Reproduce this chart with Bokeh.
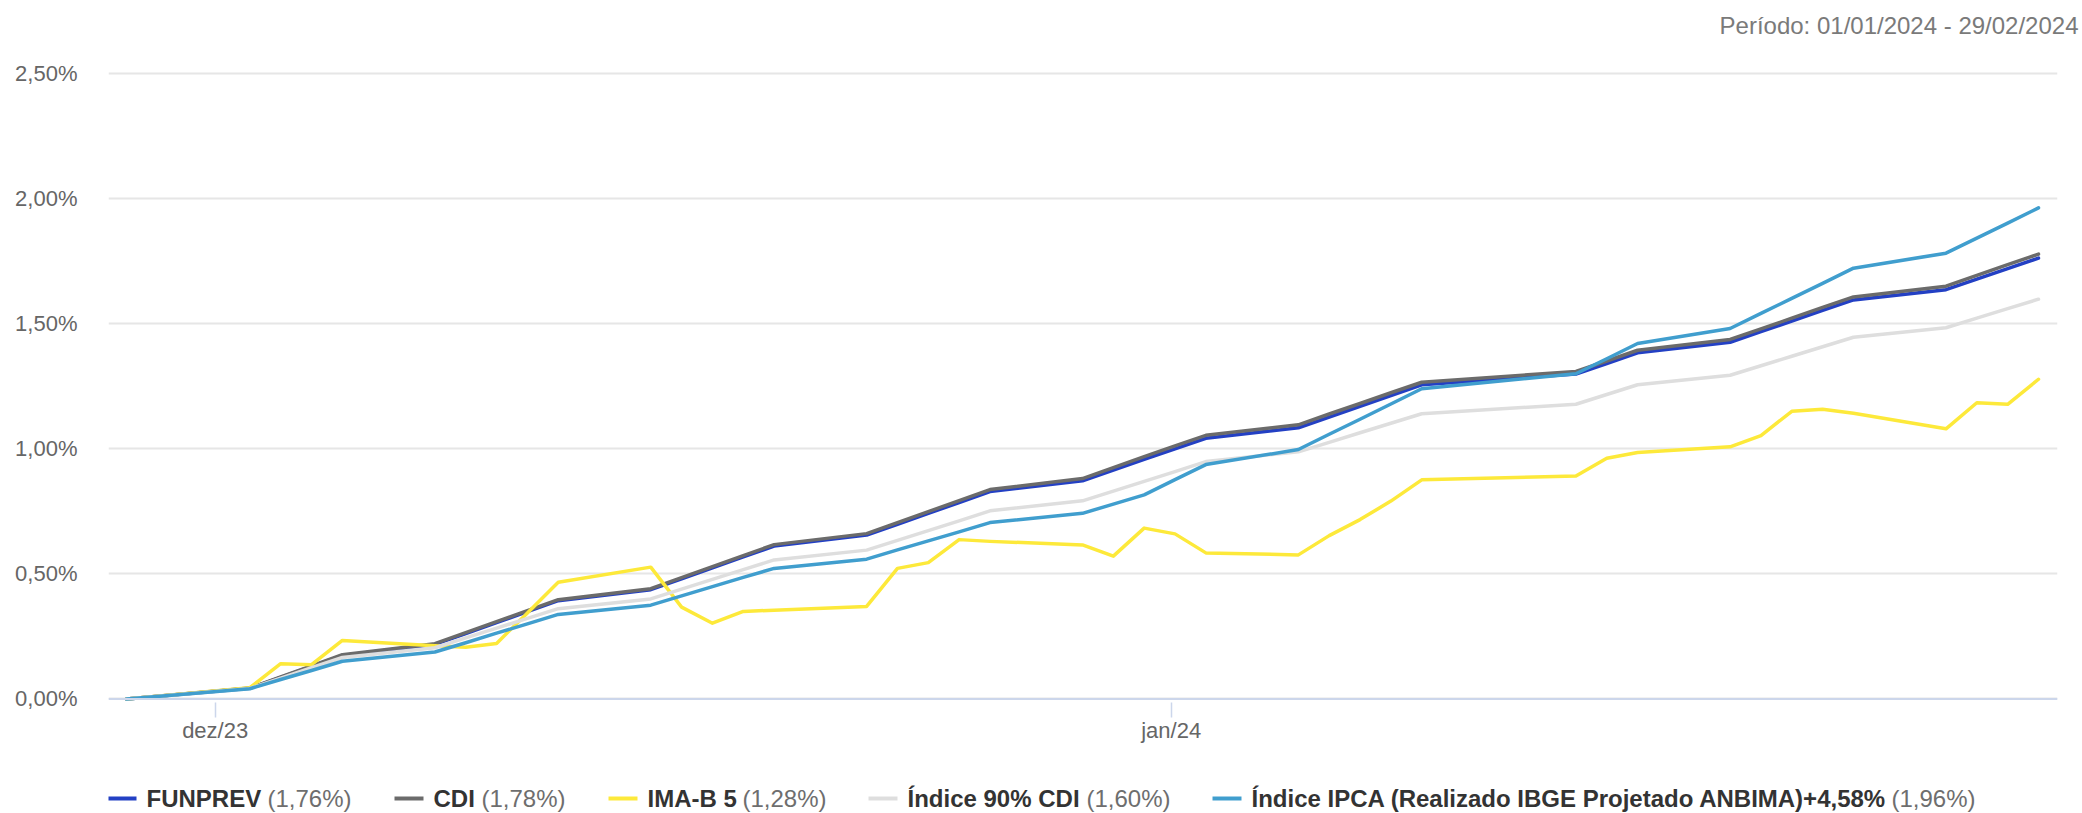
import pandas as pd
from bokeh.plotting import figure
from bokeh.models import Range1d, FixedTicker, CustomJSTickFormatter, Span
from bokeh.layouts import column
from bokeh.embed import file_html
from bokeh.resources import INLINE
from bokeh.core.properties import value

# ---------------- data ----------------
dates = ["2023-12-29",
         "2024-01-02", "2024-01-03", "2024-01-04", "2024-01-05",
         "2024-01-08", "2024-01-09", "2024-01-10", "2024-01-11", "2024-01-12",
         "2024-01-15", "2024-01-16", "2024-01-17", "2024-01-18", "2024-01-19",
         "2024-01-22", "2024-01-23", "2024-01-24", "2024-01-25", "2024-01-26",
         "2024-01-29", "2024-01-30", "2024-01-31", "2024-02-01", "2024-02-02",
         "2024-02-05", "2024-02-06", "2024-02-07", "2024-02-08", "2024-02-09",
         "2024-02-14", "2024-02-15", "2024-02-16",
         "2024-02-19", "2024-02-20", "2024-02-21", "2024-02-22", "2024-02-23",
         "2024-02-26", "2024-02-27", "2024-02-28", "2024-02-29"]

funprev = [0, 0.043, 0.086, 0.130, 0.174, 0.218, 0.261, 0.305, 0.349, 0.393,
           0.437, 0.480, 0.524, 0.568, 0.611, 0.655, 0.698, 0.742, 0.785, 0.829,
           0.872, 0.915, 0.958, 1.000, 1.042, 1.084, 1.127, 1.170, 1.213, 1.256,
           1.299, 1.341, 1.384, 1.426, 1.468, 1.510, 1.553, 1.595, 1.636, 1.678,
           1.720, 1.762]

cdi = [0, 0.044, 0.088, 0.132, 0.177, 0.221, 0.265, 0.309, 0.353, 0.397,
       0.441, 0.485, 0.529, 0.573, 0.617, 0.661, 0.705, 0.749, 0.793, 0.837,
       0.881, 0.925, 0.969, 1.012, 1.054, 1.096, 1.139, 1.181, 1.224, 1.266,
       1.309, 1.351, 1.394, 1.437, 1.479, 1.522, 1.565, 1.607, 1.650, 1.693,
       1.736, 1.778]

imab5 = [0, 0.045, 0.141, 0.137, 0.234, 0.213, 0.207, 0.222, 0.344, 0.467,
         0.527, 0.367, 0.303, 0.350, 0.355, 0.370, 0.522, 0.545, 0.637, 0.630,
         0.616, 0.571, 0.683, 0.660, 0.584, 0.576, 0.653, 0.717, 0.791, 0.876,
         0.891, 0.962, 0.985, 1.008, 1.053, 1.150, 1.158, 1.142, 1.080, 1.184,
         1.178, 1.278]

cdi90 = [0, 0.042, 0.083, 0.125, 0.166, 0.205, 0.244, 0.283, 0.322, 0.361,
         0.400, 0.439, 0.478, 0.517, 0.556, 0.595, 0.634, 0.673, 0.712, 0.752,
         0.792, 0.831, 0.870, 0.909, 0.949, 0.988, 1.026, 1.064, 1.102, 1.140,
         1.178, 1.217, 1.256, 1.294, 1.332, 1.370, 1.408, 1.446, 1.484, 1.522,
         1.560, 1.598]

ipca = [0, 0.041, 0.078, 0.114, 0.151, 0.188, 0.225, 0.263, 0.300, 0.338,
        0.375, 0.412, 0.449, 0.486, 0.522, 0.559, 0.596, 0.632, 0.668, 0.705,
        0.742, 0.779, 0.816, 0.877, 0.937, 0.997, 1.058, 1.118, 1.179, 1.240,
        1.300, 1.360, 1.421, 1.481, 1.541, 1.601, 1.661, 1.722, 1.782, 1.842,
        1.902, 1.963]

series_names = ["FUNPREV", "CDI", "IMA-B 5", "Índice 90% CDI",
                "Índice IPCA (Realizado IBGE Projetado ANBIMA)+4,58%"]
series_totals = ["(1,76%)", "(1,78%)", "(1,28%)", "(1,60%)", "(1,96%)"]
series_colors = ["#2340c4", "#6b6b6b", "#fde93a", "#dedede", "#409ece"]

# month ticks (UTC midnight shown in local UTC-3 time -> previous month label)
tick_dates = ["2023-12-31 21:00", "2024-01-31 21:00"]
tick_labels = ["dez/23", "jan/24"]
y_ticks = [0, 0.5, 1.0, 1.5, 2.0, 2.5]
header_text = "Período: 01/01/2024 - 29/02/2024"

# ---------------- derived ----------------
base = pd.Timestamp(dates[0])
DAY = pd.Timedelta(days=1)
xd = [(pd.Timestamp(d) - base) / DAY for d in dates]
tick_x = [(pd.Timestamp(d) - base) / DAY for d in tick_dates]
all_series = [funprev, cdi, imab5, cdi90, ipca]

FONT = value("Liberation Sans")
W = 2082
BL, BR = 108, 25          # frame borders (left / right), shared by all rows
FX0, FX1 = BL, W - BR     # frame pixel extent

# ---------------- header (title only) ----------------
HH = 58
hdr = figure(width=W, height=HH, x_range=Range1d(0, 1), y_range=Range1d(0, 1),
             x_axis_location=None, y_axis_location=None, toolbar_location=None,
             output_backend="svg", min_border_left=BL, min_border_right=BR,
             min_border_top=0, min_border_bottom=0, outline_line_color=None,
             title=header_text)
hdr.grid.visible = False
hdr.title.align = "right"
hdr.title.offset = -(W - FX1 - 4)
hdr.title.standoff = 20
hdr.title.vertical_align = "middle"
hdr.title.text_font = "Liberation Sans"
hdr.title.text_font_size = "24px"
hdr.title.text_font_style = "normal"
hdr.title.text_color = "#7a7a7a"

# ---------------- main plot ----------------
p = figure(width=W, height=695, toolbar_location=None, output_backend="svg",
           x_range=Range1d(-0.5837, 62.616), y_range=Range1d(-0.014, 2.56),
           min_border_left=BL, min_border_right=BR, min_border_top=0,
           min_border_bottom=51, outline_line_color=None, title=None)

p.xgrid.visible = False
p.ygrid.ticker = FixedTicker(ticks=y_ticks)
p.ygrid.grid_line_color = "#e6e6e6"
p.ygrid.grid_line_width = 2

p.yaxis.ticker = FixedTicker(ticks=y_ticks)
p.yaxis.formatter = CustomJSTickFormatter(
    code="return tick.toFixed(2).replace('.', ',') + '%';")
p.yaxis.axis_line_color = None
p.yaxis.major_tick_line_color = None
p.yaxis.minor_tick_line_color = None
p.yaxis.major_tick_out = 0
p.yaxis.major_tick_in = 0
p.yaxis.major_label_standoff = 31
p.yaxis.major_label_text_font = "Liberation Sans"
p.yaxis.major_label_text_font_size = "22px"
p.yaxis.major_label_text_color = "#666666"

p.xaxis.ticker = FixedTicker(ticks=tick_x)
p.xaxis.formatter = CustomJSTickFormatter(
    args=dict(t=tick_x, l=tick_labels),
    code="for (let i = 0; i < t.length; i++) { if (Math.abs(t[i] - tick) < 1e-6) return l[i]; } return '';")
p.xaxis.axis_line_color = None
p.xaxis.major_tick_line_color = "#ccd6eb"
p.xaxis.major_tick_line_width = 1.5
p.xaxis.minor_tick_line_color = None
p.xaxis.major_tick_out = 15
p.xaxis.major_tick_in = 0
p.xaxis.major_label_standoff = 0
p.xaxis.major_label_text_font = "Liberation Sans"
p.xaxis.major_label_text_font_size = "22px"
p.xaxis.major_label_text_color = "#666666"

p.add_layout(Span(location=0, dimension="width", line_color="#ccd6eb",
                  line_width=2))

for ys, col in zip(all_series, series_colors):
    p.line(xd, ys, line_color=col, line_width=3.5, line_join="round",
           line_cap="round")

# ---------------- legend ----------------
LH = 60
leg = figure(width=W, height=LH, x_range=Range1d(FX0, FX1), y_range=Range1d(0, LH),
             x_axis_location=None, y_axis_location=None, toolbar_location=None,
             output_backend="svg", min_border_left=BL, min_border_right=BR,
             min_border_top=0, min_border_bottom=0, outline_line_color=None)
leg.grid.visible = False
name_x = [146, 433, 647, 907, 1251]
total_x = [267, 481, 742, 1086, 1891]
ly = LH - 45
leg.segment(x0=[x - 39 for x in name_x], x1=[x - 10 for x in name_x],
            y0=[ly] * 5, y1=[ly] * 5, line_color=series_colors, line_width=4)
leg.text(x=name_x, y=[ly] * 5, text=series_names, text_align="left",
         text_baseline="middle", text_font=FONT, text_font_size="24px",
         text_font_style="bold", text_color="#333333")
leg.text(x=total_x, y=[ly] * 5, text=series_totals, text_align="left",
         text_baseline="middle", text_font=FONT, text_font_size="24px",
         text_color="#6e6e6e")

layout = column(hdr, p, leg, spacing=0)
open("out.html", "w").write(file_html(layout, INLINE))
